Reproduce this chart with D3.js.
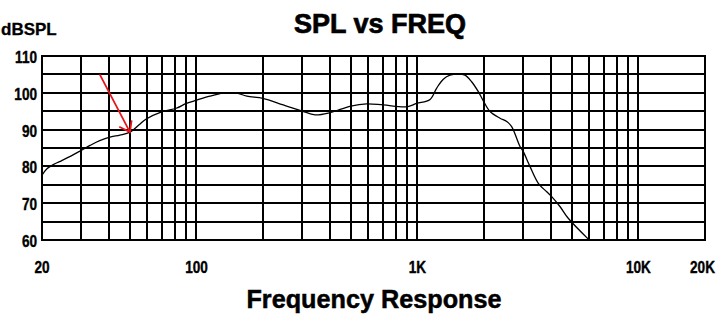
<!DOCTYPE html>
<html>
<head>
<meta charset="utf-8">
<script src="https://cdn.jsdelivr.net/npm/d3@7/dist/d3.min.js"></script>
<style>
  html, body { margin: 0; padding: 0; background: #fff; }
  svg { display: block; }
  text { font-family: "Liberation Sans", Arial, "DejaVu Sans", sans-serif; font-weight: bold; fill: #000; }
</style>
</head>
<body>
<svg id="chart" width="720" height="324"></svg>
<script>
// Frequency response of the driver (Hz, dB SPL)
const freqHz = [20, 21, 22.5, 24, 27, 30, 33, 36.5, 41, 45, 50, 55, 59, 70, 81, 90, 100, 115, 132, 150, 169, 200, 247, 299, 344, 402, 499, 589, 700, 894, 991, 1140, 1222, 1309, 1403, 1531, 1640, 1758, 1885, 1986, 2130, 2363, 2535, 2668, 2910, 3011, 3228, 3523, 3844, 4049, 4413, 4810, 5960];
const splDb  = [77.6, 79.3, 80.5, 81.3, 82.8, 84.3, 85.7, 87.0, 88.0, 88.5, 89.3, 91.3, 92.8, 94.9, 95.8, 97.1, 98.0, 99.1, 99.9, 100.0, 99.1, 98.5, 96.7, 95.1, 94.0, 94.6, 96.4, 97.0, 96.7, 96.2, 97.1, 98.2, 101.3, 103.7, 104.8, 105.1, 104.8, 103.0, 100.3, 97.8, 94.9, 93.1, 92.2, 90.8, 85.4, 84.0, 80.0, 75.4, 73.1, 71.8, 69.1, 65.9, 60.1];

// Grid: vertical lines at 1-2-3..9 per decade, horizontal every 5 dB
const freqGrid = [30, 40, 50, 60, 70, 80, 90, 100, 200, 300, 400, 500, 600, 700, 800, 900, 1000, 2000, 3000, 4000, 5000, 6000, 7000, 8000, 9000, 10000];
const dbGrid = [65, 70, 75, 80, 85, 90, 95, 100, 105];
const dbLabels = [60, 70, 80, 90, 100, 110];
const freqLabelValues = [20, 100, 1000, 10000, 20000];
const freqLabelTexts = ["20", "100", "1K", "10K", "20K"];

// Annotation arrow pointing at the 50 Hz point
const arrowFrom = { f: 36.5, db: 105 };
const arrowTo = { f: 50, db: 89.3 };

const svg = d3.select("#chart");
const plot = { left: 42, right: 705, top: 56, bottom: 240 };

const x = d3.scaleLog().domain([20, 20000]).range([plot.left, plot.right]);
const y = d3.scaleLinear().domain([60, 110]).range([plot.bottom, plot.top]);
const px = v => Math.round(v);

// Grid lines
const grid = svg.append("g").attr("stroke", "#000").attr("stroke-width", 2).attr("shape-rendering", "crispEdges");
grid.selectAll("line.v").data(freqGrid).join("line")
  .attr("class", "v")
  .attr("x1", d => px(x(d))).attr("x2", d => px(x(d)))
  .attr("y1", plot.top).attr("y2", plot.bottom);
grid.selectAll("line.h").data(dbGrid).join("line")
  .attr("class", "h")
  .attr("x1", plot.left).attr("x2", plot.right)
  .attr("y1", d => px(y(d))).attr("y2", d => px(y(d)));
grid.append("rect")
  .attr("x", plot.left).attr("y", plot.top)
  .attr("width", plot.right - plot.left).attr("height", plot.bottom - plot.top)
  .attr("fill", "none");

// Response curve
const pts = freqHz.map((f, i) => [f, splDb[i]]);
const line = d3.line()
  .x(d => x(d[0])).y(d => y(d[1]))
  .curve(d3.curveCatmullRom.alpha(0.5));
svg.append("path")
  .datum(pts)
  .attr("d", line)
  .attr("fill", "none")
  .attr("stroke", "#000")
  .attr("stroke-width", 1.3);

// Red arrow
const ax1 = x(arrowFrom.f), ay1 = y(arrowFrom.db);
const ax2 = x(arrowTo.f), ay2 = y(arrowTo.db);
const ang = Math.atan2(ay1 - ay2, ax1 - ax2);
const barb = 12, spread = 0.62;
const arrow = svg.append("g").attr("stroke", "#e8141c").attr("stroke-width", 1.8).attr("fill", "none");
arrow.append("line").attr("x1", ax1).attr("y1", ay1).attr("x2", ax2).attr("y2", ay2);
arrow.append("path").attr("d",
  `M${ax2 + barb * Math.cos(ang - spread)},${ay2 + barb * Math.sin(ang - spread)}` +
  `L${ax2},${ay2}` +
  `L${ax2 + barb * Math.cos(ang + spread)},${ay2 + barb * Math.sin(ang + spread)}`);

// Condensed bold label: placed with a translate and squeezed horizontally
function label(tx, ty, txt, size, squeeze, anchor, stroke) {
  return svg.append("text")
    .attr("transform", `translate(${tx},${ty}) scale(${squeeze},1)`)
    .attr("text-anchor", anchor)
    .attr("stroke", "#000").attr("stroke-width", stroke)
    .style("font-size", size + "px")
    .text(txt);
}

// Y tick labels
dbLabels.forEach(d => label(37, y(d) + 7, String(d), 17, 0.8, "end", 0.4));

// X tick labels (the last one is kept inside the right edge)
freqLabelValues.forEach((d, i) => {
  const last = i === freqLabelValues.length - 1;
  label(last ? 715 : x(d), 273, freqLabelTexts[i], 17, 0.8, last ? "end" : "middle", 0.4);
});

// Axis unit
label(1, 35, "dBSPL", 17, 1.0, "start", 0.3);

// Title
label(380, 33, "SPL vs FREQ", 27, 1.0, "middle", 0.7);

// X axis title
label(374, 308, "Frequency Response", 26, 0.97, "middle", 0.5);
</script>
</body>
</html>
